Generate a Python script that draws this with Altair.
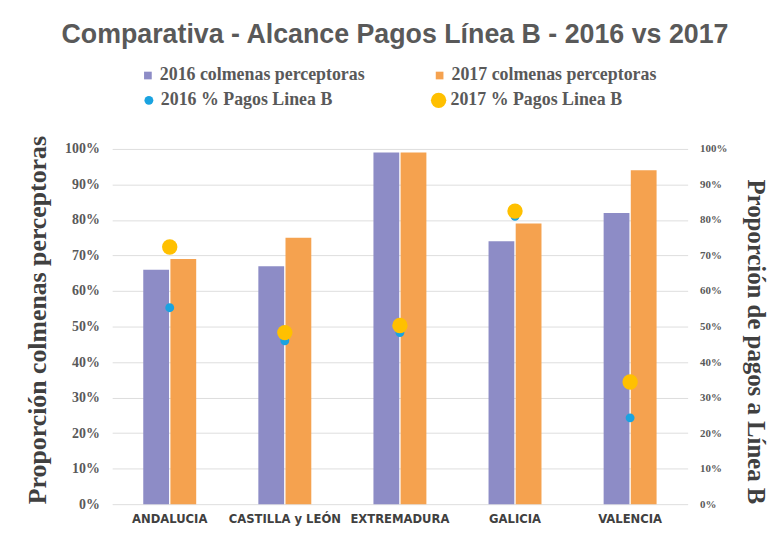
import altair as alt
import pandas as pd

regions = ["ANDALUCIA", "CASTILLA y LEÓN", "EXTREMADURA", "GALICIA", "VALENCIA"]
colmenas_2016 = [0.66, 0.67, 0.99, 0.74, 0.82]
colmenas_2017 = [0.69, 0.75, 0.99, 0.79, 0.94]
pagos_2016 = [0.553, 0.46, 0.483, 0.81, 0.243]
pagos_2017 = [0.724, 0.483, 0.503, 0.825, 0.344]

bar_series = ["2016 colmenas perceptoras", "2017 colmenas perceptoras"]
dot_series = ["2016 % Pagos Linea B", "2017 % Pagos Linea B"]
ticks = [0, 0.1, 0.2, 0.3, 0.4, 0.5, 0.6, 0.7, 0.8, 0.9, 1.0]

bar_rows = []
for r, a, b in zip(regions, colmenas_2016, colmenas_2017):
    bar_rows.append({"region": r, "series": bar_series[0], "value": a})
    bar_rows.append({"region": r, "series": bar_series[1], "value": b})
bars_df = pd.DataFrame(bar_rows)

dot_rows = []
for r, a in zip(regions, pagos_2016):
    dot_rows.append({"region": r, "dseries": dot_series[0], "pct": a})
for r, b in zip(regions, pagos_2017):
    dot_rows.append({"region": r, "dseries": dot_series[1], "pct": b})
dots_df = pd.DataFrame(dot_rows)

SERIF = "Liberation Serif"
COND = "DejaVu Sans Condensed, DejaVu Sans, sans-serif"
TITLE_FONT = "Liberation Sans"
GREY = "#595959"

x_scale = alt.Scale(domain=regions, paddingInner=0.54, paddingOuter=0.27)

def x_axis():
    return alt.Axis(title=None, labelAngle=0, ticks=False, domain=False,
                    labelFont=COND, labelFontSize=13, labelFontWeight="bold",
                    labelColor="#404040", labelPadding=9, labelLimit=200)

def dot_legend():
    return alt.Legend(title=None, orient="none", legendX=28, legendY=-58,
                      direction="horizontal", columns=2, columnPadding=97,
                      symbolType="circle",
                      labelFont=SERIF, labelFontSize=18, labelFontWeight="bold",
                      labelColor=GREY, labelLimit=300, labelOffset=3)

bars = alt.Chart(bars_df).mark_bar().encode(
    x=alt.X("region:N", sort=regions, scale=x_scale, axis=x_axis()),
    xOffset=alt.XOffset("series:N", sort=bar_series, scale=alt.Scale(paddingInner=0.05)),
    y=alt.Y("value:Q", scale=alt.Scale(domain=[0, 1], nice=False),
            axis=alt.Axis(format=".0%", values=ticks, title="Proporción colmenas perceptoras",
                          ticks=False, domain=False, grid=True, gridColor="#dedede",
                          labelFont=SERIF, labelFontSize=14, labelFontWeight="bold",
                          labelColor=GREY, labelPadding=13,
                          titleFont=SERIF, titleFontSize=26, titleFontWeight="bold",
                          titleColor="#404040", titleX=-75, titleY=172,
                          titleAngle=-90, titleAlign="center", titleBaseline="middle")),
    color=alt.Color("series:N", scale=alt.Scale(domain=bar_series, range=["#8d8cc6", "#f5a24f"]),
                    legend=alt.Legend(title=None, orient="none", legendX=27, legendY=-83,
                                      direction="horizontal", columns=2, columnPadding=66,
                                      symbolType="square", symbolSize=60,
                                      labelFont=SERIF, labelFontSize=18, labelFontWeight="bold",
                                      labelColor=GREY, labelLimit=300, labelOffset=3)),
)

dots = alt.Chart(dots_df).mark_circle(opacity=1).encode(
    x=alt.X("region:N", sort=regions, scale=x_scale, axis=x_axis()),
    y=alt.Y("pct:Q", scale=alt.Scale(domain=[0, 1], nice=False),
            axis=alt.Axis(orient="right", format=".0%", values=ticks,
                          title="Proporción de pagos a Línea B",
                          ticks=False, domain=False, grid=False,
                          labelFont=SERIF, labelFontSize=11, labelFontWeight="bold",
                          labelColor=GREY, labelPadding=12,
                          titleFont=SERIF, titleFontSize=25, titleFontWeight="bold",
                          titleColor="#404040", titleX=68, titleY=194,
                          titleAngle=90, titleAlign="center", titleBaseline="middle")),
    color=alt.Color("dseries:N", scale=alt.Scale(domain=dot_series, range=["#1aa3e0", "#ffc000"]),
                    legend=dot_legend()),
    size=alt.Size("dseries:N", scale=alt.Scale(domain=dot_series, range=[80, 240]),
                  legend=dot_legend()),
    order=alt.Order("dseries:N"),
)

chart = alt.layer(bars, dots).resolve_scale(
    y="independent", color="independent", size="independent"
).properties(
    width=580, height=358,
    title=alt.TitleParams("Comparativa - Alcance Pagos Línea B - 2016 vs 2017",
                          font=TITLE_FONT, fontSize=27, fontWeight="bold", color=GREY,
                          anchor="middle", offset=18, dx=-5),
    autosize=alt.AutoSizeParams(type="none"),
    padding={"left": 105, "top": 140, "right": 84, "bottom": 24},
    background="white",
).configure_view(stroke=None)

chart.save("out.html", embed_options={"renderer": "svg", "actions": False})
